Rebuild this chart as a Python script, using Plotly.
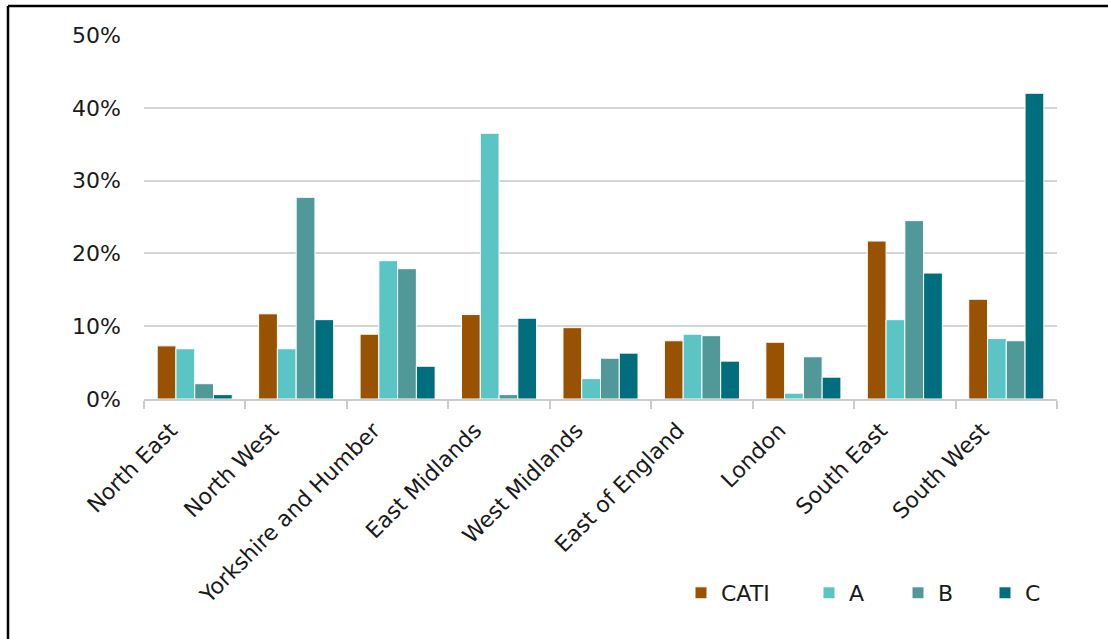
import plotly.graph_objects as go

# Regional share of respondents by survey mode
regions = ["North East", "North West", "Yorkshire and Humber", "East Midlands",
           "West Midlands", "East of England", "London", "South East", "South West"]
cati = [7.3, 11.7, 8.9, 11.6, 9.8, 8.0, 7.8, 21.7, 13.7]
mode_a = [6.9, 6.9, 19.0, 36.5, 2.8, 8.9, 0.8, 10.9, 8.3]
mode_b = [2.1, 27.7, 17.9, 0.6, 5.6, 8.7, 5.8, 24.5, 8.0]
mode_c = [0.6, 10.9, 4.5, 11.1, 6.3, 5.2, 3.0, 17.3, 42.0]

series_names = ["CATI", "A", "B", "C"]
series_values = [cati, mode_a, mode_b, mode_c]
colors = ["#995200", "#5bc5c5", "#519999", "#006e7c"]

W, H = 1108, 639
ML, MR, MT, MB = 144, 51, 35, 240
PW, PH = W - ML - MR, H - MT - MB

FONT = "DejaVu Sans"
TEXT = "#1a1a1a"


def px_to_paper_x(px):
    return (px - ML) / PW


def px_to_paper_y(py):
    return 1 - (py - MT) / PH


legend_ids = ["legend", "legend2", "legend3", "legend4"]
legend_left_px = [681, 809, 898, 985]

fig = go.Figure()
for name, vals, col, lid in zip(series_names, series_values, colors, legend_ids):
    fig.add_trace(go.Bar(
        x=regions,
        y=[v / 100 for v in vals],
        name=name,
        marker=dict(color=col, line=dict(color="white", width=1)),
        legend=lid,
        showlegend=True,
    ))

legend_layout = {}
for lid, lx in zip(legend_ids, legend_left_px):
    legend_layout[lid] = dict(
        x=px_to_paper_x(lx), xanchor="left",
        y=px_to_paper_y(593), yanchor="middle",
        orientation="h",
        font=dict(family=FONT, size=22, color=TEXT),
        bgcolor="rgba(0,0,0,0)",
        itemclick=False, itemdoubleclick=False,
    )

fig.update_layout(
    width=W, height=H,
    margin=dict(l=ML, r=MR, t=MT, b=MB, autoexpand=False),
    paper_bgcolor="white",
    plot_bgcolor="white",
    barmode="group",
    bargap=0.26,
    bargroupgap=0.0,
    showlegend=True,
    font=dict(family=FONT, size=22, color=TEXT),
    **legend_layout,
)

fig.update_xaxes(
    tickangle=-45,
    tickfont=dict(family=FONT, size=22, color=TEXT),
    showline=True, linecolor="#c9ccd0", linewidth=1.5,
    ticks="outside", tickson="boundaries", ticklen=8,
    tickcolor="#c9ccd0", tickwidth=1.5,
    showgrid=False,
    ticklabelshift=-24,
    ticklabelstandoff=8,
)

fig.update_yaxes(
    range=[0, 0.5],
    dtick=0.1,
    tickformat=".0%",
    tickfont=dict(family=FONT, size=22, color=TEXT),
    showgrid=True, gridcolor="#d3d6d9", gridwidth=1.5,
    zeroline=False,
    showline=False,
    ticklabelstandoff=22,
)

# Chart frame (left and top edges)
frame_l = px_to_paper_x(8)
frame_t = px_to_paper_y(6)
fig.add_shape(type="line", xref="paper", yref="paper",
              x0=frame_l, x1=frame_l, y0=frame_t, y1=px_to_paper_y(H + 10),
              line=dict(color="black", width=2.5))
fig.add_shape(type="line", xref="paper", yref="paper",
              x0=frame_l, x1=px_to_paper_x(W + 10), y0=frame_t, y1=frame_t,
              line=dict(color="black", width=2.5))

fig.write_html("out.html")
